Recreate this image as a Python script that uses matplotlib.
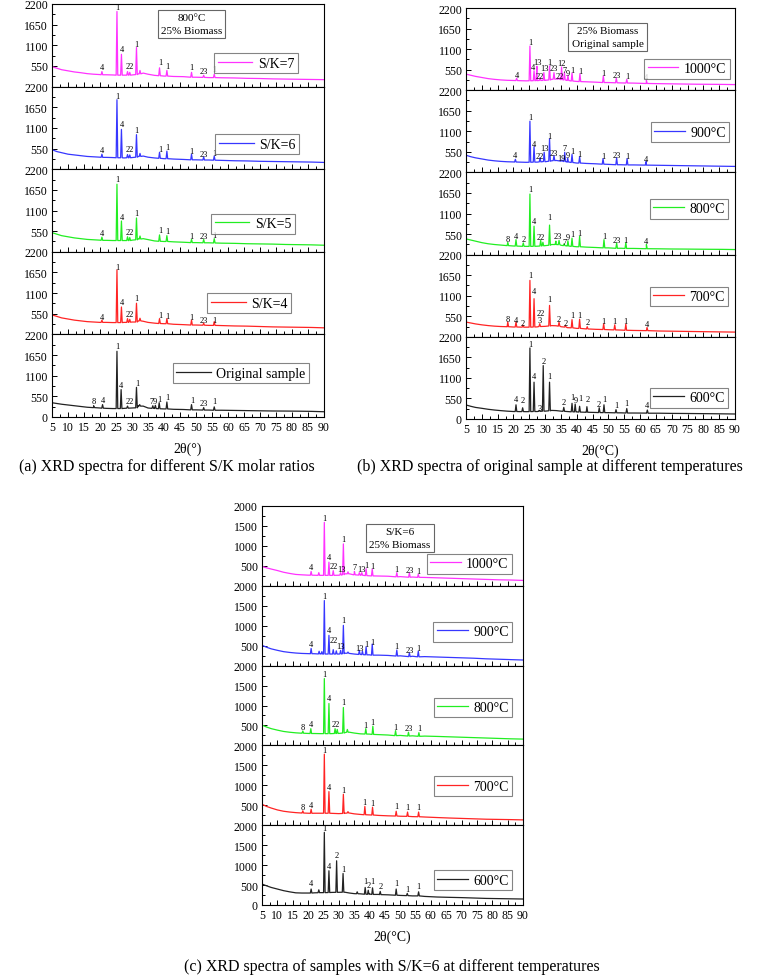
import numpy as np
import matplotlib
matplotlib.use("Agg")
import matplotlib.pyplot as plt
from matplotlib.ticker import MultipleLocator

plt.rcParams['font.family'] = ['Liberation Serif', 'DejaVu Serif']
plt.rcParams['mathtext.fontset'] = 'stix'

# shared 2theta grid for the background of every trace
bg_x = [5, 6.5, 8, 10, 12, 14, 16, 18, 20, 22, 24, 27.5, 30, 32, 33.5, 35, 37, 40,
        43, 46, 50, 54, 58, 62, 66, 70, 74, 78, 82, 86, 90]

# ---------- (a) different S/K ratios, 800 C ----------
names_a = ['S/K=7', 'S/K=6', 'S/K=5', 'S/K=4', 'Original sample']
bg_a = [
    [530, 490, 450, 420, 390, 370, 345, 330, 320, 315, 310, 305, 310, 340, 360, 330, 300, 280, 270, 265, 250, 240, 235, 230, 220, 215, 205, 200, 195, 190, 185],
    [520, 470, 440, 400, 380, 360, 340, 330, 320, 315, 310, 300, 310, 340, 350, 320, 300, 280, 270, 260, 250, 245, 235, 225, 220, 210, 205, 200, 195, 190, 180],
    [510, 470, 430, 400, 370, 350, 330, 320, 310, 305, 300, 300, 310, 345, 350, 325, 290, 275, 265, 255, 245, 240, 230, 225, 215, 210, 205, 195, 190, 185, 175],
    [520, 480, 440, 410, 380, 360, 340, 330, 320, 320, 315, 320, 330, 360, 350, 320, 300, 285, 270, 260, 250, 240, 235, 225, 220, 210, 200, 195, 190, 185, 175],
    [380, 360, 340, 320, 300, 280, 260, 250, 240, 230, 225, 230, 240, 300, 290, 240, 230, 215, 205, 200, 190, 185, 180, 175, 170, 165, 160, 158, 155, 150, 140],
]
# peaks: (2theta, base, top)
peaks_a = [
    [(20.6, 315, 400), (25.3, 305, 2000), (26.7, 305, 860), (28.6, 305, 400), (29.3, 305, 380), (31.4, 320, 1040),
     (32.5, 340, 430), (38.6, 290, 500), (40.9, 280, 430), (48.6, 250, 380), (52.4, 245, 300), (55.7, 240, 330)],
    [(20.6, 315, 400), (25.3, 305, 1850), (26.7, 305, 1060), (28.6, 305, 390), (29.3, 305, 380), (31.4, 320, 920),
     (32.5, 340, 420), (38.6, 290, 450), (40.9, 280, 480), (48.6, 250, 400), (52.4, 245, 330), (55.7, 240, 350)],
    [(20.6, 305, 390), (25.3, 300, 1800), (26.7, 300, 820), (28.6, 300, 400), (29.3, 300, 380), (31.4, 320, 900),
     (32.5, 340, 420), (38.6, 280, 450), (40.9, 275, 430), (48.6, 245, 330), (52.4, 240, 330), (55.7, 235, 350)],
    [(20.6, 320, 380), (25.3, 315, 1720), (26.7, 315, 730), (28.6, 320, 420), (29.3, 325, 400), (31.4, 330, 830),
     (32.5, 360, 430), (38.6, 290, 420), (40.9, 285, 420), (48.6, 250, 380), (52.4, 245, 300), (55.7, 240, 340)],
    [(18.0, 250, 300), (20.8, 235, 330), (25.3, 225, 1750), (26.6, 225, 730), (28.6, 235, 290), (31.4, 245, 790),
     (32.4, 290, 330), (36.5, 230, 300), (37.3, 225, 310), (38.5, 220, 380), (40.9, 215, 400), (48.6, 190, 330),
     (52.4, 185, 250), (55.7, 180, 270)],
]
# labels: (2theta, intensity, text)
labels_a = [
    [(20.6, 511, '4'), (25.3, 2110, '1'), (26.8, 1007, '4'), (29.4, 538, '22'), (31.5, 1131, '1'), (38.8, 644, '1'),
     (41.0, 538, '1'), (48.7, 511, '1'), (52.5, 424, '23'), (55.7, 469, '1')],
    [(20.6, 512, '4'), (25.3, 1943, '1'), (26.8, 1193, '4'), (29.4, 530, '22'), (31.5, 1040, '1'), (38.8, 530, '1'),
     (41.0, 591, '1'), (48.7, 485, '1'), (52.5, 415, '23'), (55.7, 442, '1')],
    [(20.6, 495, '4'), (25.3, 1932, '1'), (26.8, 936, '4'), (29.4, 538, '22'), (31.5, 1042, '1'), (38.8, 583, '1'),
     (41.0, 556, '1'), (48.7, 432, '1'), (52.5, 432, '23'), (55.7, 450, '1')],
    [(20.6, 459, '4'), (25.3, 1802, '1'), (26.8, 856, '4'), (29.4, 548, '22'), (31.5, 972, '1'), (38.8, 530, '1'),
     (41.0, 485, '1'), (48.7, 459, '1'), (52.5, 371, '23'), (55.7, 389, '1')],
    [(18.2, 427, '8'), (20.8, 453, '4'), (25.3, 1880, '1'), (26.6, 865, '4'), (29.3, 427, '22'), (31.6, 908, '1'),
     (36.8, 427, '79'), (38.5, 489, '1'), (41.0, 532, '1'), (48.8, 445, '1'), (52.5, 366, '23'), (55.7, 427, '1')],
]

# ---------- (b) original sample, different temperatures ----------
names_b = ['1000°C', '900°C', '800°C', '700°C', '600°C']
bg_b = [
    [430, 400, 370, 340, 310, 290, 275, 265, 260, 255, 250, 255, 265, 290, 300, 280, 260, 235, 225, 215, 205, 195, 190, 180, 175, 170, 165, 160, 158, 155, 150],
    [460, 420, 390, 360, 330, 310, 295, 285, 280, 275, 270, 275, 285, 310, 320, 300, 275, 250, 240, 230, 215, 205, 200, 195, 190, 185, 180, 175, 170, 165, 160],
    [420, 390, 360, 320, 290, 270, 255, 240, 230, 225, 220, 225, 240, 270, 270, 250, 230, 210, 200, 190, 180, 170, 165, 160, 155, 150, 148, 145, 142, 140, 135],
    [394, 370, 345, 320, 300, 285, 275, 268, 262, 260, 258, 265, 280, 300, 295, 270, 245, 225, 210, 200, 190, 180, 170, 165, 155, 150, 145, 140, 135, 130, 126],
    [376, 340, 310, 286, 260, 240, 224, 210, 200, 198, 196, 200, 210, 230, 225, 210, 200, 190, 180, 175, 170, 165, 160, 158, 155, 150, 148, 145, 142, 138, 134],
]
peaks_b = [
    [(21.0, 258, 320), (25.2, 252, 1180), (26.5, 255, 520), (27.4, 258, 640), (28.4, 260, 330), (29.6, 262, 470),
     (31.4, 275, 650), (32.8, 295, 470), (34.3, 295, 330), (35.2, 285, 620), (36.1, 275, 470), (37.2, 262, 400),
     (38.5, 245, 460), (41.0, 230, 440), (48.4, 205, 380), (52.5, 198, 320), (55.8, 192, 290), (62.0, 180, 260)],
    [(20.6, 278, 350), (25.2, 272, 1370), (26.5, 275, 690), (28.4, 282, 390), (29.7, 290, 540), (31.4, 300, 900),
     (32.8, 315, 450), (35.3, 300, 330), (36.2, 290, 540), (37.1, 280, 380), (38.5, 265, 480), (40.9, 250, 420),
     (48.3, 220, 370), (52.6, 205, 390), (55.9, 200, 370), (61.9, 195, 290)],
    [(18.2, 240, 330), (20.8, 228, 400), (23.1, 222, 310), (25.2, 220, 1620), (26.5, 222, 760), (28.6, 230, 380),
     (29.3, 235, 330), (31.4, 250, 790), (33.4, 270, 360), (34.4, 265, 380), (36.0, 240, 290), (37.2, 230, 370),
     (38.5, 220, 440), (40.9, 210, 490), (48.6, 180, 400), (52.6, 168, 310), (55.5, 165, 320), (62.0, 158, 270)],
    [(18.2, 270, 400), (20.8, 262, 400), (23.0, 258, 310), (25.2, 258, 1510), (26.5, 262, 1020), (28.3, 275, 350),
     (31.4, 290, 840), (34.4, 285, 390), (36.4, 260, 300), (38.5, 240, 460), (40.9, 225, 470), (43.3, 210, 270),
     (48.5, 195, 350), (52.0, 185, 320), (55.5, 175, 340), (62.2, 165, 250)],
    [(20.8, 200, 380), (22.9, 198, 300), (25.2, 198, 1900), (26.5, 200, 985), (28.2, 205, 230), (29.4, 210, 1430),
     (31.4, 220, 985), (35.9, 205, 310), (38.5, 192, 420), (39.5, 190, 400), (40.9, 185, 340), (43.2, 180, 330),
     (47.1, 172, 300), (48.6, 170, 380), (52.4, 165, 250), (55.8, 160, 280), (62.3, 155, 240)],
]
labels_b = [
    [(21.1, 402, '4'), (25.2, 1280, '1'), (26.1, 608, '4'), (27.6, 760, '13'), (28.2, 380, '22'), (29.9, 590, '13'),
     (31.5, 760, '1'), (32.8, 590, '23'), (34.6, 370, '22'), (35.0, 730, '12'), (36.3, 540, '7'), (37.3, 470, '9'),
     (38.5, 545, '1'), (41.0, 518, '1'), (48.3, 456, '1'), (52.6, 402, '23'), (55.9, 367, '1'), (61.9, 340, '4')],
    [(20.6, 470, '4'), (25.2, 1480, '1'), (26.5, 750, '4'), (28.3, 450, '22'), (29.8, 660, '13'), (31.5, 973, '1'),
     (32.8, 530, '23'), (36.2, 640, '7'), (35.3, 389, '19'), (37.2, 460, '9'), (38.5, 565, '1'), (40.9, 504, '1'),
     (48.3, 442, '1'), (52.7, 459, '23'), (55.9, 442, '1'), (61.9, 371, '4')],
    [(18.2, 420, '8'), (20.8, 492, '4'), (23.1, 420, '2'), (25.2, 1744, '1'), (26.5, 904, '4'), (28.7, 474, '22'),
     (31.5, 993, '1'), (34.0, 492, '23'), (36.0, 345, '7'), (37.2, 474, '9'), (38.5, 545, '1'), (40.9, 590, '1'),
     (48.6, 492, '1'), (52.6, 402, '23'), (55.5, 402, '1'), (62.0, 367, '4')],
    [(18.2, 483, '8'), (20.8, 456, '4'), (23.0, 367, '2'), (25.2, 1663, '1'), (26.5, 1216, '4'), (28.5, 644, '22'),
     (28.2, 456, '3'), (31.5, 1020, '1'), (34.4, 483, '2'), (36.4, 367, '2'), (38.5, 572, '1'), (40.9, 572, '1'),
     (43.3, 394, '2'), (48.5, 420, '1'), (52.0, 420, '1'), (55.5, 420, '1'), (62.2, 349, '4')],
    [(20.8, 537, '4'), (22.9, 519, '2'), (25.2, 2012, '1'), (26.5, 1145, '4'), (28.2, 300, '3'), (29.4, 1565, '2'),
     (31.5, 1145, '1'), (35.9, 447, '2'), (38.5, 581, '1'), (39.7, 519, '9'), (41.0, 563, '1'), (43.3, 537, '2'),
     (47.0, 402, '2'), (48.7, 537, '1'), (52.4, 376, '1'), (55.8, 429, '1'), (62.3, 376, '4')],
]

# ---------- (c) S/K=6, different temperatures ----------
names_c = ['1000°C', '900°C', '800°C', '700°C', '600°C']
bg_c = [
    [483, 450, 420, 383, 340, 310, 285, 275, 267, 265, 262, 260, 265, 300, 300, 280, 265, 250, 245, 240, 230, 220, 210, 200, 190, 180, 170, 160, 150, 145, 135],
    [508, 460, 420, 383, 350, 330, 315, 305, 300, 298, 295, 290, 290, 310, 305, 290, 280, 270, 262, 255, 245, 235, 225, 215, 205, 195, 185, 170, 160, 150, 140],
    [508, 460, 420, 383, 350, 330, 315, 305, 300, 298, 295, 295, 300, 320, 330, 310, 290, 283, 270, 260, 250, 240, 233, 225, 215, 205, 195, 185, 175, 165, 158],
    [525, 470, 430, 383, 350, 330, 315, 305, 300, 300, 300, 298, 290, 300, 305, 285, 270, 258, 245, 235, 225, 215, 205, 192, 180, 170, 160, 150, 145, 140, 133],
    [525, 480, 440, 400, 360, 330, 305, 300, 300, 305, 310, 315, 318, 320, 300, 285, 280, 275, 265, 255, 240, 228, 215, 200, 192, 185, 175, 165, 160, 155, 150],
]
peaks_c = [
    [(21.0, 266, 360), (23.5, 262, 330), (25.3, 262, 1590), (26.8, 262, 592), (28.2, 262, 380), (30.6, 268, 330),
     (31.5, 280, 1050), (33.0, 300, 350), (35.1, 275, 360), (36.7, 268, 330), (37.5, 265, 330), (38.9, 255, 430),
     (40.9, 248, 420), (48.9, 225, 330), (53.0, 215, 330), (55.9, 212, 290)],
    [(21.0, 298, 430), (23.6, 292, 360), (24.5, 290, 350), (25.3, 290, 1630), (26.8, 290, 758), (28.2, 290, 400),
     (29.2, 290, 370), (30.6, 292, 380), (31.5, 300, 1008), (33.0, 310, 340), (36.7, 280, 380), (37.7, 275, 360),
     (38.9, 270, 470), (40.9, 262, 540), (48.9, 240, 390), (53.0, 225, 320), (55.9, 220, 360)],
    [(18.3, 305, 360), (20.9, 298, 420), (25.3, 295, 1675), (26.8, 295, 1050), (28.8, 298, 420), (29.5, 300, 400),
     (31.5, 310, 950), (32.8, 330, 400), (38.8, 285, 420), (41.1, 275, 480), (48.5, 245, 370), (52.7, 235, 330),
     (56.1, 228, 320)],
    [(18.3, 305, 360), (21.0, 298, 400), (25.3, 300, 1780), (26.8, 300, 842), (31.5, 295, 775), (33.0, 305, 340),
     (38.5, 262, 470), (41.0, 255, 450), (48.7, 230, 350), (52.4, 222, 330), (56.0, 212, 330)],
    [(21.0, 300, 400), (23.5, 308, 380), (25.3, 310, 1820), (26.8, 312, 858), (29.3, 318, 1108), (31.4, 320, 790),
     (36.0, 282, 330), (38.6, 270, 440), (39.6, 268, 370), (41.0, 265, 430), (43.5, 260, 340), (48.7, 245, 400),
     (52.3, 235, 290), (56.0, 228, 330)],
]
labels_c = [
    [(21.0, 467, '4'), (25.3, 1700, '1'), (26.8, 717, '4'), (28.3, 492, '22'), (30.9, 425, '13'), (31.5, 1175, '1'),
     (35.1, 467, '7'), (37.3, 425, '13'), (38.9, 525, '1'), (40.9, 508, '1'), (48.9, 425, '1'), (53.0, 400, '23'),
     (55.9, 367, '1')],
    [(21.0, 550, '4'), (25.3, 1742, '1'), (26.8, 883, '4'), (28.4, 633, '22'), (30.6, 492, '13'), (31.5, 1133, '1'),
     (36.7, 442, '13'), (38.9, 550, '1'), (40.9, 583, '1'), (48.9, 492, '1'), (53.0, 400, '23'), (55.9, 442, '1')],
    [(18.3, 467, '8'), (20.9, 525, '4'), (25.3, 1800, '1'), (26.8, 1192, '4'), (29.0, 533, '22'), (31.5, 1092, '1'),
     (38.8, 508, '1'), (41.1, 592, '1'), (48.5, 467, '1'), (52.7, 425, '23'), (56.1, 425, '1')],
    [(18.3, 467, '8'), (21.0, 500, '4'), (25.3, 1890, '1'), (26.8, 967, '4'), (31.5, 883, '1'), (38.5, 575, '1'),
     (41.0, 550, '1'), (48.7, 475, '1'), (52.4, 458, '1'), (56.0, 458, '1')],
    [(21.0, 542, '4'), (25.3, 1920, '1'), (26.8, 983, '4'), (29.3, 1250, '2'), (31.4, 900, '1'), (38.6, 608, '1'),
     (39.6, 500, '2'), (41.0, 608, '1'), (43.5, 467, '2'), (48.7, 542, '1'), (52.3, 400, '1'), (56.0, 467, '1')],
]

colors = ['#ff33ff', '#3737ff', '#22ee22', '#ff2424', '#222222']

W, H = 765, 979
fig = plt.figure(figsize=(W / 100, H / 100), dpi=100)


def trace(bg, peaks):
    pts = list(zip(bg_x, bg))
    for x, b, t in peaks:
        pts += [(x - 0.25, b), (x, t), (x + 0.25, b)]
    pts.sort()
    xs, ys = zip(*pts)
    return xs, ys


def panel(left, right, top, bottom, ymax, names, bgs, peaks, labels, leg_pos, hlen,
          box_text, box_pos, xlabel):
    n = len(names)
    h = (bottom - top) / n
    axes = []
    for i in range(n):
        y0 = top + i * h
        ax = fig.add_axes([left / W, 1 - (y0 + h) / H, (right - left) / W, h / H])
        xs, ys = trace(bgs[i], peaks[i])
        ax.plot(xs, ys, color=colors[i], lw=0.9, label=names[i])
        for x, y, t in labels[i]:
            ax.text(x, y, t, fontsize=6, ha='center', va='center')
        ax.set_xlim(5, 90)
        ax.set_ylim(0, ymax)
        ax.xaxis.set_major_locator(MultipleLocator(5))
        ax.xaxis.set_minor_locator(MultipleLocator(2.5))
        step = ymax / 4
        ticks = [step * k for k in range(5)]
        ax.set_yticks(ticks)
        lab = ['%d' % t for t in ticks]
        if i < n - 1:
            lab[0] = ''
            ax.tick_params(axis='x', labelbottom=False)
        ax.set_yticklabels(lab)
        ax.yaxis.set_minor_locator(MultipleLocator(step / 2))
        ax.tick_params(which='both', direction='in', labelsize=8.5, width=0.7, pad=3)
        ax.tick_params(which='major', length=3.5)
        ax.tick_params(which='minor', length=2)
        for s in ax.spines.values():
            s.set_linewidth(0.8)
        lx, ly = leg_pos[i]
        leg = ax.legend(loc='center right', bbox_to_anchor=(lx, ly), fontsize=10, frameon=True,
                        fancybox=False, edgecolor='#666666', handlelength=hlen, handletextpad=0.4,
                        borderpad=0.25, borderaxespad=0)
        leg.get_frame().set_linewidth(0.8)
        axes.append(ax)
    bx, by = box_pos
    axes[0].text(bx, by, box_text, transform=axes[0].transAxes, fontsize=8, ha='center', va='center',
                 linespacing=1.5, bbox=dict(boxstyle='square,pad=0.3', fc='white', ec='#666666', lw=0.8))
    axes[-1].set_xlabel(xlabel, fontsize=10, labelpad=6)
    return axes


panel(52, 324, 5, 418, 2200, names_a, bg_a, peaks_a, labels_a,
      [(0.904, 0.28), (0.908, 0.30), (0.893, 0.34), (0.879, 0.38), (0.945, 0.53)], 2.5,
      '800°C\n25% Biomass', (0.513, 0.756), '2θ(°)')
panel(466, 735, 9, 420, 2200, names_b, bg_b, peaks_b, labels_b,
      [(0.981, 0.26), (0.978, 0.49), (0.974, 0.56), (0.974, 0.49), (0.974, 0.26)], 2.2,
      '25% Biomass\nOriginal sample', (0.526, 0.646), '2θ(°C)')
panel(262, 523, 507, 906, 2000, names_c, bg_c, peaks_c, labels_c,
      [(0.958, 0.275), (0.958, 0.425), (0.958, 0.475), (0.958, 0.49), (0.958, 0.31)], 2.2,
      'S/K=6\n25% Biomass', (0.529, 0.6), '2θ(°C)')

fig.text(167 / W, 1 - 467 / H, '(a) XRD spectra for different S/K molar ratios', fontsize=11.5,
         ha='center', va='center')
fig.text(550 / W, 1 - 467 / H, '(b) XRD spectra of original sample at different temperatures', fontsize=11.5,
         ha='center', va='center')
fig.text(392 / W, 1 - 967 / H, '(c) XRD spectra of samples with S/K=6 at different temperatures', fontsize=11.5,
         ha='center', va='center')

fig.savefig('out.png', dpi=100)
